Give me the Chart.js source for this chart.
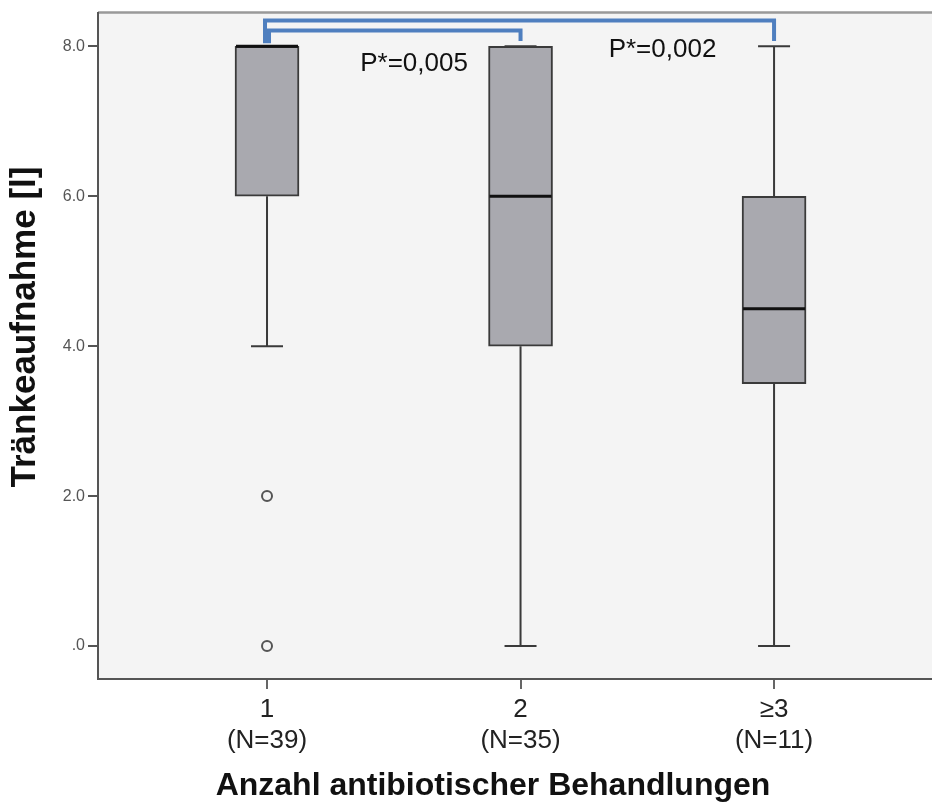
<!DOCTYPE html>
<html>
<head>
<meta charset="utf-8">
<script src="https://cdn.jsdelivr.net/npm/chart.js@4.4.1/dist/chart.umd.min.js"></script>
<style>
  html, body { margin: 0; background: #fff; }
  canvas { display: block; }
</style>
</head>
<body>
<canvas id="chart" width="932" height="803"></canvas>
<script>
const groups = ['1', '2', '≥3'];
const counts = [39, 35, 11];
const positions = [1, 2, 3];
const q1 = [6, 4, 3.5];
const median = [8, 6, 4.5];
const q3 = [8, 8, 6];
const whiskerLow = [4, 0, 0];
const whiskerHigh = [8, 8, 8];
const outliers = [[2, 0], [], []];
const yTicks = [0, 2, 4, 6, 8];
const comparisons = [
  { from: 1, to: 2, level: 8.21, p: 'P*=0,005', labelX: 1.58, labelY: 7.76 },
  { from: 1, to: 3, level: 8.345, p: 'P*=0,002', labelX: 2.56, labelY: 7.96 },
];
const xTitle = 'Anzahl antibiotischer Behandlungen';
const yTitle = 'Tränkeaufnahme [l]';

const FONT = '"Liberation Sans", Arial, sans-serif';
const BOX_FILL = '#a9a9af';
const LINE = '#3a3a3a';
const BRACKET = '#4f7fbf';

Chart.defaults.font.family = FONT;

const outlierPoints = [];
outliers.forEach((vals, i) => vals.forEach((v) => outlierPoints.push({ x: positions[i], y: v })));

const plotBackground = {
  id: 'plotBackground',
  beforeDraw(chart) {
    const { ctx, chartArea: a } = chart;
    ctx.save();
    ctx.fillStyle = '#f4f4f4';
    ctx.fillRect(a.left, a.top, a.right - a.left, a.bottom - a.top);
    ctx.strokeStyle = '#999';
    ctx.lineWidth = 2.5;
    ctx.beginPath();
    ctx.moveTo(a.left, a.top);
    ctx.lineTo(a.right, a.top);
    ctx.stroke();
    ctx.restore();
  },
};

// axis titles sit slightly off-centre in the original, so draw them by hand
const axisTitles = {
  id: 'axisTitles',
  afterDraw(chart) {
    const { ctx } = chart;
    ctx.save();
    ctx.fillStyle = '#111';
    ctx.textAlign = 'center';
    ctx.textBaseline = 'middle';
    ctx.font = `bold 32px ${FONT}`;
    ctx.fillText(xTitle, 493, 786);
    ctx.translate(25, 327);
    ctx.rotate(-Math.PI / 2);
    ctx.font = `bold 35px ${FONT}`;
    ctx.fillText(yTitle, 0, 0);
    ctx.restore();
  },
};

const boxExtras = {
  id: 'boxExtras',
  afterDatasetsDraw(chart) {
    const { ctx, scales: { x, y } } = chart;
    ctx.save();
    positions.forEach((p, i) => {
      const px = x.getPixelForValue(p);
      const cap = 16;
      ctx.strokeStyle = LINE;
      ctx.lineWidth = 2;
      ctx.beginPath();
      ctx.moveTo(px, y.getPixelForValue(q3[i]));
      ctx.lineTo(px, y.getPixelForValue(whiskerHigh[i]));
      ctx.moveTo(px, y.getPixelForValue(q1[i]));
      ctx.lineTo(px, y.getPixelForValue(whiskerLow[i]));
      ctx.moveTo(px - cap, y.getPixelForValue(whiskerHigh[i]));
      ctx.lineTo(px + cap, y.getPixelForValue(whiskerHigh[i]));
      ctx.moveTo(px - cap, y.getPixelForValue(whiskerLow[i]));
      ctx.lineTo(px + cap, y.getPixelForValue(whiskerLow[i]));
      ctx.stroke();
      ctx.strokeStyle = '#111';
      ctx.lineWidth = 3;
      ctx.beginPath();
      ctx.moveTo(px - 31, y.getPixelForValue(median[i]));
      ctx.lineTo(px + 31, y.getPixelForValue(median[i]));
      ctx.stroke();
    });

    // significance brackets
    ctx.strokeStyle = BRACKET;
    ctx.lineWidth = 4;
    ctx.lineJoin = 'miter';
    comparisons.forEach((c, k) => {
      const x0 = x.getPixelForValue(c.from) + (k === 0 ? 2 : -2);
      const x1 = x.getPixelForValue(c.to);
      const top = y.getPixelForValue(c.level);
      const foot = y.getPixelForValue(8.07);
      ctx.beginPath();
      ctx.moveTo(x0, y.getPixelForValue(8.04));
      ctx.lineTo(x0, top);
      ctx.lineTo(x1, top);
      ctx.lineTo(x1, foot);
      ctx.stroke();
    });
    ctx.fillStyle = '#111';
    ctx.font = `26px ${FONT}`;
    ctx.textAlign = 'center';
    ctx.textBaseline = 'middle';
    comparisons.forEach((c) => {
      ctx.fillText(c.p, x.getPixelForValue(c.labelX), y.getPixelForValue(c.labelY));
    });
    ctx.restore();
  },
};

new Chart(document.getElementById('chart'), {
  type: 'bar',
  data: {
    datasets: [
      {
        type: 'bar',
        data: positions.map((p, i) => ({ x: p, y: [q1[i], q3[i]] })),
        backgroundColor: BOX_FILL,
        borderColor: LINE,
        borderWidth: 2,
        borderSkipped: false,
        barThickness: 64,
        order: 2,
      },
      {
        type: 'scatter',
        data: outlierPoints,
        pointStyle: 'circle',
        pointRadius: 5,
        borderWidth: 2,
        borderColor: '#555',
        backgroundColor: 'rgba(0,0,0,0)',
        order: 1,
      },
    ],
  },
  options: {
    responsive: false,
    animation: false,
    layout: { autoPadding: false, padding: { top: 10, left: 0, right: 0, bottom: 0 } },
    plugins: { legend: { display: false }, tooltip: { enabled: false } },
    scales: {
      x: {
        type: 'linear',
        offset: false,
        min: 1 / 3,
        max: 3.623,
        afterBuildTicks: (s) => { s.ticks = positions.map((v) => ({ value: v })); },
        afterFit: (s) => { s.height = 124; },
        ticks: {
          autoSkip: false,
          maxRotation: 0,
          padding: 5,
          color: '#222',
          font: { size: 26, lineHeight: 1.2 },
          callback: (v) => {
            const i = positions.indexOf(v);
            return i < 0 ? '' : [groups[i], `(N=${counts[i]})`];
          },
        },
        grid: { offset: false, drawOnChartArea: false, drawTicks: true, tickLength: 10, color: '#666', lineWidth: 2 },
        border: { display: true, color: '#555', width: 2 },
        title: { display: false },
      },
      y: {
        type: 'linear',
        min: -0.44,
        max: 8.45,
        afterBuildTicks: (s) => { s.ticks = yTicks.map((v) => ({ value: v })); },
        afterFit: (s) => { s.width = 98; },
        ticks: {
          padding: 3,
          color: '#555',
          font: { size: 16 },
          callback: (v) => (v === 0 ? '.0' : v.toFixed(1)),
        },
        grid: { drawOnChartArea: false, drawTicks: true, tickLength: 10, color: '#555', lineWidth: 2 },
        border: { display: true, color: '#555', width: 2 },
        title: { display: false },
      },
    },
  },
  plugins: [plotBackground, boxExtras, axisTitles],
});
</script>
</body>
</html>
